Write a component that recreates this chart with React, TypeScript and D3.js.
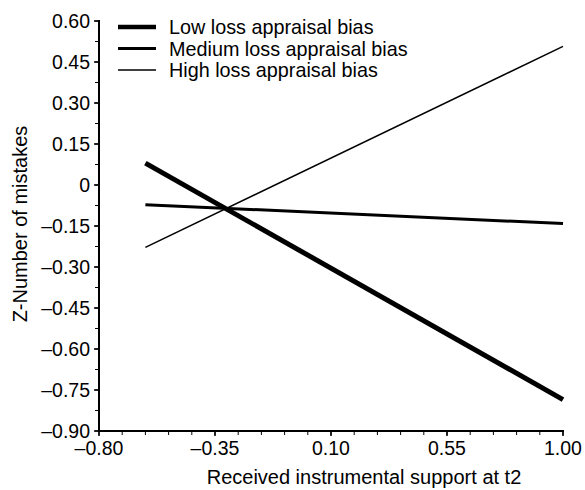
import React from "react";
import * as d3 from "d3";

const xPoints = [-0.62, 1.0];
const seriesNames = ["Low loss appraisal bias", "Medium loss appraisal bias", "High loss appraisal bias"];
const lowValues = [0.08, -0.785];
const mediumValues = [-0.072, -0.141];
const highValues = [-0.228, 0.507];
const xTicks = [-0.8, -0.35, 0.1, 0.55, 1.0];
const xTickLabels = ["\u20130.80", "\u20130.35", "0.10", "0.55", "1.00"];
const yTicks = [0.6, 0.45, 0.3, 0.15, 0, -0.15, -0.3, -0.45, -0.6, -0.75, -0.9];
const yTickLabels = ["0.60", "0.45", "0.30", "0.15", "0", "\u20130.15", "\u20130.30", "\u20130.45", "\u20130.60", "\u20130.75", "\u20130.90"];
const xTitle = "Received instrumental support at t2";
const yTitle = "Z-Number of mistakes";

const widths = [5, 3, 1.5];
const legendWidths = [4.5, 3, 1.3];

export default function App() {
  const W = 585, H = 490;
  const x = d3.scaleLinear().domain([-0.8, 1.0]).range([99, 563]);
  const y = d3.scaleLinear().domain([-0.9, 0.6]).range([431, 21]);
  const font = "'Liberation Sans', Arial, Helvetica, sans-serif";
  const series = [lowValues, mediumValues, highValues];
  const line = d3.line<[number, number]>().x(d => x(d[0])).y(d => y(d[1]));

  const xMinor: number[] = [];
  for (let i = 0; i <= 20; i++) xMinor.push(-0.8 + i * 0.09);
  const yMinor: number[] = [];
  for (let i = 0; i <= 20; i++) yMinor.push(-0.9 + i * 0.075);

  return (
    <svg width={W} height={H} style={{ position: "absolute", left: 0, top: 0, background: "#fff" }} fontFamily={font}>
      <rect width={W} height={H} fill="#fff" />
      {xMinor.map((v, i) => (
        <line key={"xm" + i} x1={x(v)} x2={x(v)} y1={431} y2={435} stroke="#000" strokeWidth={1} />
      ))}
      {yMinor.map((v, i) => (
        <line key={"ym" + i} x1={95} x2={99} y1={y(v)} y2={y(v)} stroke="#000" strokeWidth={1} />
      ))}
      {xTicks.map((v, i) => (
        <g key={"xt" + i}>
          <line x1={x(v)} x2={x(v)} y1={431} y2={436} stroke="#000" strokeWidth={1.5} />
          <text x={x(v)} y={455} textAnchor="middle" fontSize={19.5} fill="#000">{xTickLabels[i]}</text>
        </g>
      ))}
      {yTicks.map((v, i) => (
        <g key={"yt" + i}>
          <line x1={94} x2={99} y1={y(v)} y2={y(v)} stroke="#000" strokeWidth={1.5} />
          <text x={90} y={y(v) + 7} textAnchor="end" fontSize={19.5} fill="#000">{yTickLabels[i]}</text>
        </g>
      ))}
      <line x1={99} x2={99} y1={20} y2={432} stroke="#000" strokeWidth={2} />
      <line x1={98} x2={564} y1={431} y2={431} stroke="#000" strokeWidth={2} />
      {series.map((vals, i) => (
        <path key={"s" + i} d={line(xPoints.map((xv, j) => [xv, vals[j]] as [number, number])) || ""}
          fill="none" stroke="#000" strokeWidth={widths[i]} />
      ))}
      {seriesNames.map((n, i) => (
        <g key={"lg" + i}>
          <line x1={118} x2={156} y1={27 + i * 21.5} y2={27 + i * 21.5} stroke="#000" strokeWidth={legendWidths[i]} />
          <text x={169} y={27 + i * 21.5 + 7.3} fontSize={19.8} fill="#000">{n}</text>
        </g>
      ))}
      <text x={364} y={484} textAnchor="middle" fontSize={20} fill="#000">{xTitle}</text>
      <text transform="translate(27,224) rotate(-90)" textAnchor="middle" fontSize={20} fill="#000">{yTitle}</text>
    </svg>
  );
}
